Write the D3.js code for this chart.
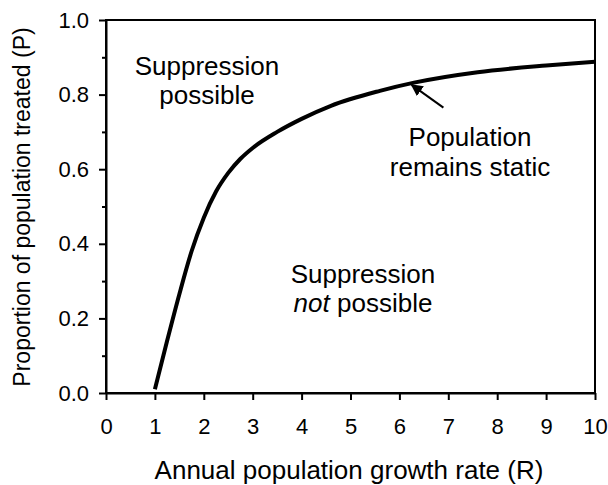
<!DOCTYPE html>
<html><head><meta charset="utf-8">
<script src="https://cdn.jsdelivr.net/npm/d3@7"></script>
<style>body{margin:0;background:#fff}svg{display:block}text{font-family:Arial,"Liberation Sans",sans-serif;fill:#000}</style>
</head><body>
<svg id="c" width="608" height="485"></svg>
<script>
const growthRate = [1.0, 1.25, 1.5, 1.75, 2.0, 2.25, 2.5, 2.75, 3.0, 3.5, 4.0, 4.6, 5.6, 6.3, 7.6, 9.0, 10.0];
const proportion = [0.01, 0.14, 0.265, 0.38, 0.47, 0.54, 0.59, 0.628, 0.657, 0.70, 0.735, 0.77, 0.81, 0.832, 0.86, 0.878, 0.888];
const xTicks = [0,1,2,3,4,5,6,7,8,9,10];
const yTicks = [0,0.2,0.4,0.6,0.8,1.0];
const yMinorTicks = [0.1,0.3,0.5,0.7,0.9];
const xTitle = "Annual population growth rate (R)";
const yTitle = "Proportion of population treated (P)";

const svg = d3.select("#c");
const L=106, R=595, T=20, B=393;
const x = d3.scaleLinear().domain([0,10]).range([L,R]);
const y = d3.scaleLinear().domain([0,1]).range([B,T]);

// frame
svg.append("rect").attr("x",L).attr("y",T).attr("width",R-L).attr("height",B-T)
  .attr("fill","none").attr("stroke","#000").attr("stroke-width",2);

const xa = svg.append("g").attr("transform",`translate(0,${B})`)
  .call(d3.axisBottom(x).tickValues(xTicks).tickFormat(d3.format("d")).tickSizeInner(7).tickSizeOuter(0).tickPadding(18));
xa.select(".domain").attr("stroke-width",2);
xa.selectAll(".tick line").attr("stroke-width",2);
xa.selectAll("text").attr("font-size",22).attr("font-family","Arial, Liberation Sans").attr("fill","#000");

const ya = svg.append("g").attr("transform",`translate(${L},0)`)
  .call(d3.axisLeft(y).tickValues(yTicks).tickFormat(d3.format(".1f")).tickSizeInner(7).tickSizeOuter(0).tickPadding(10));
ya.select(".domain").attr("stroke-width",2);
ya.selectAll(".tick line").attr("stroke-width",2);
ya.selectAll("text").attr("font-size",22).attr("font-family","Arial, Liberation Sans").attr("fill","#000");

const ym = svg.append("g").attr("transform",`translate(${L},0)`)
  .call(d3.axisLeft(y).tickValues(yMinorTicks).tickFormat("").tickSizeInner(4).tickSizeOuter(0));
ym.select(".domain").remove();
ym.selectAll(".tick line").attr("stroke-width",2);

// curve
const pts = growthRate.map((r,i)=>[r,proportion[i]]);
svg.append("path").datum(pts)
  .attr("d", d3.line().x(d=>x(d[0])).y(d=>y(d[1])).curve(d3.curveMonotoneX))
  .attr("fill","none").attr("stroke","#000").attr("stroke-width",4).attr("stroke-linecap","butt");

// titles
svg.append("text").attr("x",(155+543)/2).attr("y",479).attr("text-anchor","middle")
  .attr("font-size",26).text(xTitle);
svg.append("text").attr("transform","translate(30,207) rotate(-90)").attr("text-anchor","middle")
  .attr("font-size",23).text(yTitle);

// annotations
function label(cx, lines, base, gap){
  lines.forEach((ln,i)=>{
    const t = svg.append("text").attr("x",cx).attr("y",base+i*gap).attr("text-anchor","middle").attr("font-size",26);
    ln.forEach(seg=>t.append("tspan").attr("font-style",seg.i?"italic":"normal").text(seg.t));
  });
}
label(207, [[{t:"Suppression"}],[{t:"possible"}]], 75, 29);
label(470, [[{t:"Population"}],[{t:"remains static"}]], 146, 30);
label(363, [[{t:"Suppression"}],[{t:"not",i:true},{t:" possible"}]], 283, 29);

// arrow
svg.append("defs").append("marker").attr("id","ah").attr("viewBox","0 0 10 10").attr("refX",9).attr("refY",5)
  .attr("markerWidth",6).attr("markerHeight",6).attr("orient","auto")
  .append("path").attr("d","M0,0 L10,5 L0,10 z").attr("fill","#000");
svg.append("line").attr("x1",x(6.9)).attr("y1",y(0.765)).attr("x2",x(6.25)).attr("y2",y(0.826))
  .attr("stroke","#000").attr("stroke-width",2).attr("marker-end","url(#ah)");
</script>
</body></html>
